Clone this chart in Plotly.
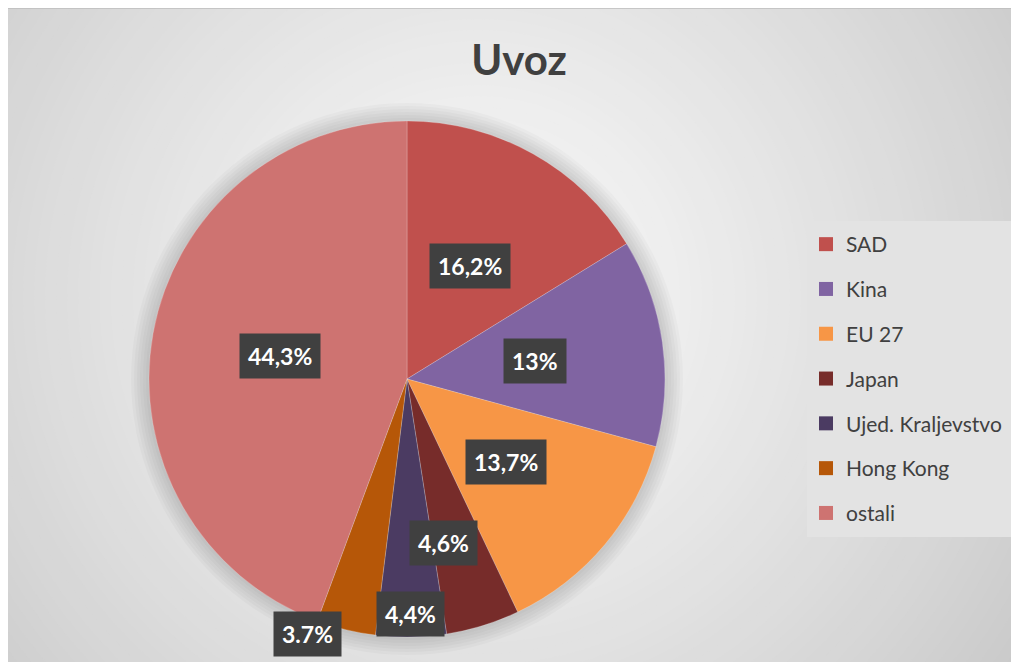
import math
import plotly.graph_objects as go

# ---- data ----
categories = ["SAD", "Kina", "EU 27", "Japan", "Ujed. Kraljevstvo", "Hong Kong", "ostali"]
values = [16.2, 13.0, 13.7, 4.6, 4.4, 3.7, 44.3]
value_labels = ["16,2%", "13%", "13,7%", "4,6%", "4,4%", "3.7%", "44,3%"]

# ---- style ----
colors = ["#C0504D", "#8064A2", "#F79646", "#772C2A", "#4B3B62", "#B65708", "#CE7371"]
label_radius = [0.50, 0.50, 0.50, 0.65, 0.91, 1.06, 0.50]   # fraction of pie radius
label_angle_nudge = [0, 0, 0, 4.5, 0, 7.7, 0]                # degrees

W, H = 1019, 662
CX, CY, R = 399, 371, 258   # pie centre / radius in figure pixels


def px(x):
    return x / W


def py(y):
    return 1 - y / H


fig = go.Figure()

fig.add_trace(go.Pie(
    labels=categories,
    values=values,
    sort=False,
    direction="clockwise",
    rotation=0,
    marker=dict(colors=colors, line=dict(color="rgba(255,255,255,0.35)", width=0.6)),
    textinfo="none",
    hoverinfo="label+percent",
    showlegend=False,
    domain=dict(x=[px(CX - R), px(CX + R)], y=[py(CY + R), py(CY - R)]),
))

# legend via dummy traces (to control spacing)
for name, col in zip(categories, colors):
    fig.add_trace(go.Scatter(
        x=[None], y=[None], mode="markers", name=name, legendgroup=name,
        marker=dict(symbol="square", size=14, color=col),
    ))

# ---- label boxes, positioned from slice angles ----
total = sum(values)
cum = 0.0
annotations = []
for v, txt, fr, nudge in zip(values, value_labels, label_radius, label_angle_nudge):
    mid = (cum + v / 2) / total * 360 + nudge
    cum += v
    a = math.radians(mid)
    lx = CX + fr * R * math.sin(a)
    ly = CY - fr * R * math.cos(a)
    annotations.append(dict(
        x=px(lx), y=py(ly), xref="paper", yref="paper", showarrow=False,
        text="<b>" + txt + "</b>", font=dict(family="Lato", size=23, color="white"),
        bgcolor="#404040", borderpad=8, xanchor="center", yanchor="middle",
    ))

# ---- background: radial-ish gradient + pie shadow ----
shapes = [dict(type="rect", xref="paper", yref="paper", x0=0, x1=1, y0=0, y1=1,
               fillcolor="#c8c8c8", line=dict(width=0), layer="below")]
GX, GY = 470, 290
N = 60
for i in range(N):
    r = 660 * (1 - i / N) + 15
    t = i / (N - 1)
    c = int(round(200 + (250 - 200) * (t ** 0.9)))
    shapes.append(dict(type="circle", xref="paper", yref="paper",
                       x0=px(GX - r), x1=px(GX + r), y0=py(GY + r), y1=py(GY - r),
                       fillcolor=f"rgb({c},{c},{c})", line=dict(width=0), layer="below"))
shapes.append(dict(type="line", xref="paper", yref="paper", x0=0, x1=1, y0=1, y1=1,
                   line=dict(color="#bdbdbd", width=1.5), layer="below"))
# soft shadow around pie
for s in [18, 15, 12, 9, 6, 3]:
    shapes.append(dict(type="circle", xref="paper", yref="paper",
                       x0=px(CX - R - s), x1=px(CX + R + s), y0=py(CY + R + s), y1=py(CY - R - s),
                       fillcolor="rgba(0,0,0,0.022)", line=dict(width=0), layer="below"))
# legend panel
shapes.append(dict(type="rect", xref="paper", yref="paper", x0=px(799), x1=px(1005),
                   y0=py(529), y1=py(213), fillcolor="#e3e3e3", line=dict(width=0), layer="below"))

fig.update_layout(
    width=W, height=H,
    margin=dict(l=0, r=0, t=0, b=0),
    paper_bgcolor="white",
    plot_bgcolor="rgba(0,0,0,0)",
    xaxis=dict(visible=False),
    yaxis=dict(visible=False),
    title=dict(text="<b>Uvoz</b>", x=px(511), xanchor="center", y=py(52), yanchor="middle",
               font=dict(family="Lato", size=42, color="#404040")),
    showlegend=True,
    legend=dict(x=px(798), y=py(216), xanchor="left", yanchor="top",
                bgcolor="rgba(0,0,0,0)", font=dict(family="Lato", size=21, color="#404040"),
                tracegroupgap=14.5, itemclick=False),
    shapes=shapes,
    annotations=annotations,
)

fig.write_html("out.html")
